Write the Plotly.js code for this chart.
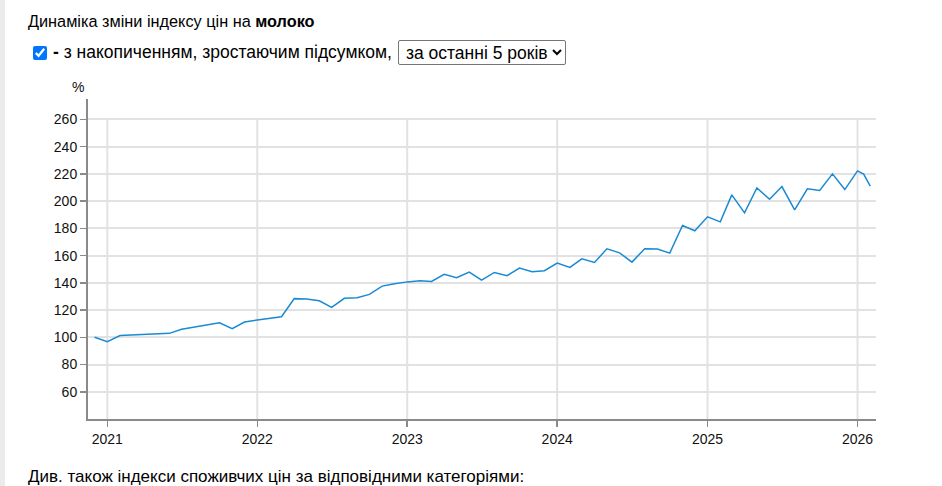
<!DOCTYPE html>
<html>
<head>
<meta charset="utf-8">
<script src="https://cdn.plot.ly/plotly-3.0.1.min.js"></script>
<style>
  html, body { margin: 0; padding: 0; width: 942px; height: 486px; overflow: hidden; background: #fff; font-family: "Liberation Sans", Arial, sans-serif; color: #000; }
  #strip { position: absolute; left: 0; top: 0; width: 5px; height: 486px; background: #ebebeb; }
  #chart { position: absolute; left: 0; top: 0; width: 942px; height: 486px; }
  .txt { position: absolute; white-space: nowrap; }
  #title { left: 28px; top: 12px; font-size: 16.3px; }
  #row { left: 31px; top: 40px; display: flex; align-items: center; font-size: 17.5px; }
  #row input { margin: 0 6px 0 2px; width: 14px; height: 14px; }
  #row select { font-family: "Liberation Sans", Arial, sans-serif; font-size: 17.5px; margin-left: 6px; height: 25px; padding: 0 1px 0 3px; color: #000; background: #fff; border: 1px solid #767676; border-radius: 2px; }
  #bottom { left: 28px; top: 468px; font-size: 17px; line-height: 17px; }
</style>
</head>
<body>
<div id="strip"></div>
<div id="chart"></div>
<div class="txt" id="title">Динаміка зміни індексу цін на <b>молоко</b></div>
<div class="txt" id="row"><input type="checkbox" checked><b>-</b>&nbsp;з накопиченням, зростаючим підсумком,<select><option>за останні 5 років</option></select></div>
<div class="txt" id="bottom">Див. також індекси споживчих цін за відповідними категоріями:</div>
<script>
const dates = [
  '2020-12-01',
  '2021-01-01','2021-02-01','2021-03-01','2021-04-01','2021-05-01','2021-06-01',
  '2021-07-01','2021-08-01','2021-09-01','2021-10-01','2021-11-01','2021-12-01',
  '2022-01-01','2022-02-01','2022-03-01','2022-04-01','2022-05-01','2022-06-01',
  '2022-07-01','2022-08-01','2022-09-01','2022-10-01','2022-11-01','2022-12-01',
  '2023-01-01','2023-02-01','2023-03-01','2023-04-01','2023-05-01','2023-06-01',
  '2023-07-01','2023-08-01','2023-09-01','2023-10-01','2023-11-01','2023-12-01',
  '2024-01-01','2024-02-01','2024-03-01','2024-04-01','2024-05-01','2024-06-01',
  '2024-07-01','2024-08-01','2024-09-01','2024-10-01','2024-11-01','2024-12-01',
  '2025-01-01','2025-02-01','2025-03-01','2025-04-01','2025-05-01','2025-06-01',
  '2025-07-01','2025-08-01','2025-09-01','2025-10-01','2025-11-01','2025-12-01',
  '2026-01-01','2026-01-16','2026-02-01'
];
const milkIndex = [
  100.0,
  96.8, 101.3, 101.6, 102.4, 102.2, 102.9,
  105.9, 107.5, 109.3, 110.6, 106.3, 111.2,
  112.7, 114.0, 115.1, 128.4, 128.2, 126.8,
  122.0, 128.6, 129.1, 131.5, 137.6, 139.3,
  140.7, 141.5, 141.0, 146.2, 143.7, 147.9,
  142.0, 147.6, 145.2, 150.8, 148.1, 148.9,
  154.5, 151.3, 157.6, 155.0, 165.0, 162.0,
  155.2, 165.0, 164.8, 161.8, 182.1, 178.2,
  188.5, 184.8, 204.6, 191.4, 209.7, 201.4,
  210.7, 193.6, 209.0, 207.8, 220.0, 208.5,
  222.2, 219.8, 211.0
];
const yearTicks = ['2021-01-01','2022-01-01','2023-01-01','2024-01-01','2025-01-01','2026-01-01'];
const yearLabels = ['2021','2022','2023','2024','2025','2026'];
const yTicks = [60, 80, 100, 120, 140, 160, 180, 200, 220, 240, 260];
const yUnit = '%';

const gridColor = '#e2e2e2';
const axisColor = '#8a8a8a';
const fontFam = '"Liberation Sans", Arial, sans-serif';

const shapes = yearTicks.map(d => ({
  type: 'line', xref: 'x', yref: 'y', x0: d, x1: d, y0: 40, y1: yTicks[yTicks.length - 1],
  line: { color: gridColor, width: 2 }, layer: 'below'
}));

Plotly.newPlot('chart', [{
  x: dates, y: milkIndex, type: 'scatter', mode: 'lines',
  line: { color: '#1a8ad4', width: 1.5 }, hoverinfo: 'x+y'
}], {
  width: 942, height: 486,
  margin: { l: 88, r: 66, t: 99, b: 67 },
  paper_bgcolor: 'rgba(0,0,0,0)', plot_bgcolor: 'rgba(0,0,0,0)',
  showlegend: false,
  font: { family: fontFam, size: 14, color: '#111' },
  xaxis: {
    type: 'date', range: ['2020-11-15', '2026-02-15'],
    tickmode: 'array', tickvals: yearTicks, ticktext: yearLabels,
    showgrid: false, zeroline: false,
    showline: true, linecolor: axisColor, linewidth: 2,
    ticks: 'outside', ticklen: 6, tickwidth: 1.5, tickcolor: axisColor,
    tickfont: { family: fontFam, size: 14, color: '#111' }
  },
  yaxis: {
    range: [40, 275], tickmode: 'array', tickvals: yTicks,
    showgrid: true, gridcolor: gridColor, gridwidth: 2, zeroline: false,
    showline: true, linecolor: axisColor, linewidth: 2,
    ticks: 'outside', ticklen: 6, tickwidth: 1.5, tickcolor: axisColor,
    tickfont: { family: fontFam, size: 14, color: '#111' }
  },
  shapes: shapes,
  annotations: [{
    text: yUnit, xref: 'paper', yref: 'paper', x: 0, y: 1, xanchor: 'right', yanchor: 'bottom',
    xshift: -2, yshift: 2, showarrow: false, font: { family: fontFam, size: 14, color: '#111' }
  }]
}, { displayModeBar: false, staticPlot: true });
</script>
</body>
</html>
